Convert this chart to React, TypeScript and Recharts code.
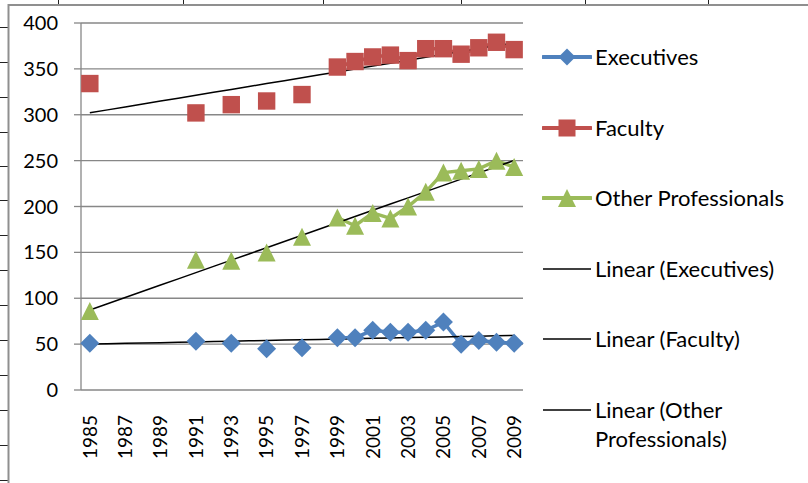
import React from "react";
import { CartesianGrid, Line, LineChart, XAxis, YAxis } from "recharts";

const years = [
  1985, 1986, 1987, 1988, 1989, 1990, 1991, 1992, 1993, 1994, 1995, 1996, 1997,
  1998, 1999, 2000, 2001, 2002, 2003, 2004, 2005, 2006, 2007, 2008, 2009,
];
const yearLabels = [1985, 1987, 1989, 1991, 1993, 1995, 1997, 1999, 2001, 2003, 2005, 2007, 2009];
const valueTicks = [0, 50, 100, 150, 200, 250, 300, 350, 400];

// null = year not surveyed (Excel leaves a gap)
const executives = [
  51, null, null, null, null, null, 53, null, 51, null, 45, null, 46,
  null, 57, 57, 65, 63, 63, 65, 74, 50, 54, 52, 51,
];
const faculty = [
  334, null, null, null, null, null, 302, null, 311, null, 315, null, 322,
  null, 352, 358, 363, 365, 359, 372, 372, 366, 373, 379, 371,
];
const otherProfessionals = [
  86, null, null, null, null, null, 142, null, 141, null, 150, null, 167,
  null, 188, 179, 193, 187, 200, 216, 237, 239, 241, 250, 243,
];

const BLUE = "#4F81BD";
const RED = "#C0504D";
const GREEN = "#9BBB59";
const GRID = "#878787";
const FONT = "Lato, 'Open Sans', sans-serif";

// least squares fit over the category positions, like Excel's "Linear" trendline
function linearFit(values: (number | null)[]) {
  const pts = values
    .map((v, i) => (v == null ? null : [i, v]))
    .filter((p): p is number[] => p !== null);
  const n = pts.length;
  const mx = pts.reduce((s, p) => s + p[0], 0) / n;
  const my = pts.reduce((s, p) => s + p[1], 0) / n;
  let sxy = 0;
  let sxx = 0;
  pts.forEach(([x, y]) => {
    sxy += (x - mx) * (y - my);
    sxx += (x - mx) * (x - mx);
  });
  const slope = sxy / sxx;
  return values.map((_, i) => my + slope * (i - mx));
}

const execTrend = linearFit(executives);
const facultyTrend = linearFit(faculty);
const otherTrend = linearFit(otherProfessionals);

const data = years.map((year, i) => ({
  year,
  executives: executives[i],
  faculty: faculty[i],
  other: otherProfessionals[i],
  execTrend: execTrend[i],
  facultyTrend: facultyTrend[i],
  otherTrend: otherTrend[i],
}));

const boundaryTicks = [...years.map((y) => y - 0.5), years[years.length - 1] + 0.5];

const DiamondDot = (props: any) => {
  const { cx, cy, value } = props;
  if (value == null || cx == null || cy == null) return <g key={props.key} />;
  const r = 9.5;
  return (
    <path
      key={props.key}
      d={`M${cx},${cy - r}L${cx + r},${cy}L${cx},${cy + r}L${cx - r},${cy}Z`}
      fill={BLUE}
    />
  );
};

const SquareDot = (props: any) => {
  const { cx, cy, value } = props;
  if (value == null || cx == null || cy == null) return <g key={props.key} />;
  const h = 8.7;
  return <rect key={props.key} x={cx - h} y={cy - h} width={h * 2} height={h * 2} fill={RED} />;
};

const TriangleDot = (props: any) => {
  const { cx, cy, value } = props;
  if (value == null || cx == null || cy == null) return <g key={props.key} />;
  const h = 9;
  return (
    <path
      key={props.key}
      d={`M${cx},${cy - h}L${cx + h},${cy + h}L${cx - h},${cy + h}Z`}
      fill={GREEN}
    />
  );
};

const YearTick = (props: any) => {
  const { x, y, payload } = props;
  return (
    <text
      x={x}
      y={y}
      transform={`rotate(-90, ${x}, ${y})`}
      textAnchor="end"
      dy="0.36em"
      fontSize={19}
      fontFamily={FONT}
      fill="#000"
    >
      {payload.value}
    </text>
  );
};

const legendItems = [
  { label: "Executives", color: BLUE, marker: "diamond" },
  { label: "Faculty", color: RED, marker: "square" },
  { label: "Other Professionals", color: GREEN, marker: "triangle" },
  { label: "Linear (Executives)", color: "#000", marker: "" },
  { label: "Linear (Faculty)", color: "#000", marker: "" },
  { label: "Linear (Other Professionals)", color: "#000", marker: "" },
];

function LegendSwatch({ color, marker }: { color: string; marker: string }) {
  const trend = marker === "";
  return (
    <svg width={50} height={24} style={{ position: "absolute", left: 0, top: 0 }}>
      <line
        x1={1}
        x2={49}
        y1={12}
        y2={12}
        stroke={color}
        strokeWidth={trend ? 1.5 : 4}
        strokeLinecap={trend ? "butt" : "round"}
      />
      {marker === "diamond" && <path d="M25,3.5L33.5,12L25,20.5L16.5,12Z" fill={color} />}
      {marker === "square" && <rect x={16.5} y={3.5} width={17} height={17} fill={color} />}
      {marker === "triangle" && <path d="M25,3L34,21L16,21Z" fill={color} />}
    </svg>
  );
}

// spreadsheet cell borders peeking around the chart frame
const cellColumns = [58, 183, 323, 461, 585, 708];
const cellRows = [27, 62, 97, 132, 166, 200, 235, 270, 305, 340, 375, 410, 445, 480];

export default function App() {
  return (
    <div
      style={{
        position: "absolute",
        left: 0,
        top: 0,
        width: 808,
        height: 483,
        background: "#fff",
        overflow: "hidden",
        fontFamily: FONT,
      }}
    >
      <div style={{ position: "absolute", left: 0, top: 0 }}>
        <LineChart
          width={808}
          height={483}
          data={data}
          margin={{ top: 23, right: 285, bottom: 23, left: 0 }}
        >
          <CartesianGrid vertical={false} stroke={GRID} strokeWidth={1.3} />
          <XAxis
            xAxisId="ticks"
            dataKey="year"
            type="number"
            domain={[1984.5, 2009.5]}
            ticks={boundaryTicks}
            interval={0}
            height={0}
            tickSize={7}
            tick={() => <g />}
            axisLine={{ stroke: GRID, strokeWidth: 1.3 }}
            tickLine={{ stroke: GRID, strokeWidth: 1.3 }}
          />
          <XAxis
            xAxisId="years"
            dataKey="year"
            type="number"
            domain={[1984.5, 2009.5]}
            ticks={yearLabels}
            interval={0}
            height={70}
            tickSize={0}
            tickMargin={25}
            axisLine={false}
            tickLine={false}
            tick={<YearTick />}
          />
          <YAxis
            domain={[0, 400]}
            ticks={valueTicks}
            interval={0}
            width={81}
            tickSize={7}
            tickMargin={16}
            axisLine={{ stroke: GRID, strokeWidth: 1.3 }}
            tickLine={{ stroke: GRID, strokeWidth: 1.3 }}
            tick={{ fill: "#000", fontSize: 20, fontFamily: FONT }}
          />
          <Line
            xAxisId="years"
            dataKey="executives"
            stroke={BLUE}
            strokeWidth={3.5}
            dot={DiamondDot}
            isAnimationActive={false}
          />
          <Line
            xAxisId="years"
            dataKey="faculty"
            stroke={RED}
            strokeWidth={3.5}
            dot={SquareDot}
            isAnimationActive={false}
          />
          <Line
            xAxisId="years"
            dataKey="other"
            stroke={GREEN}
            strokeWidth={3.5}
            dot={TriangleDot}
            isAnimationActive={false}
          />
          <Line xAxisId="years" dataKey="execTrend" stroke="#000" strokeWidth={1.5} dot={false} isAnimationActive={false} />
          <Line xAxisId="years" dataKey="facultyTrend" stroke="#000" strokeWidth={1.5} dot={false} isAnimationActive={false} />
          <Line xAxisId="years" dataKey="otherTrend" stroke="#000" strokeWidth={1.5} dot={false} isAnimationActive={false} />
        </LineChart>
      </div>
      {legendItems.map((item, i) => (
        <div
          key={item.label}
          style={{ position: "absolute", left: 542, top: 45 + i * 70.6, width: 260 }}
        >
          <LegendSwatch color={item.color} marker={item.marker} />
          <div
            style={{
              marginLeft: 53,
              fontSize: 22,
              lineHeight: "28.5px",
              marginTop: -2,
              color: "#000",
              width: 200,
            }}
          >
            {item.label}
          </div>
        </div>
      ))}
      <svg
        width={808}
        height={483}
        style={{ position: "absolute", left: 0, top: 0, pointerEvents: "none", zIndex: 2 }}
      >
        {cellColumns.map((x) => (
          <line key={"c" + x} x1={x + 0.5} x2={x + 0.5} y1={0} y2={4} stroke="#222" strokeWidth={1} />
        ))}
        {cellRows.map((y) => (
          <line key={"r" + y} x1={0} x2={8} y1={y + 0.5} y2={y + 0.5} stroke="#222" strokeWidth={1} />
        ))}
        <path d="M8.5,483 L8.5,5 L808,5" fill="none" stroke="#8f8f8f" strokeWidth={2} />
      </svg>
    </div>
  );
}
